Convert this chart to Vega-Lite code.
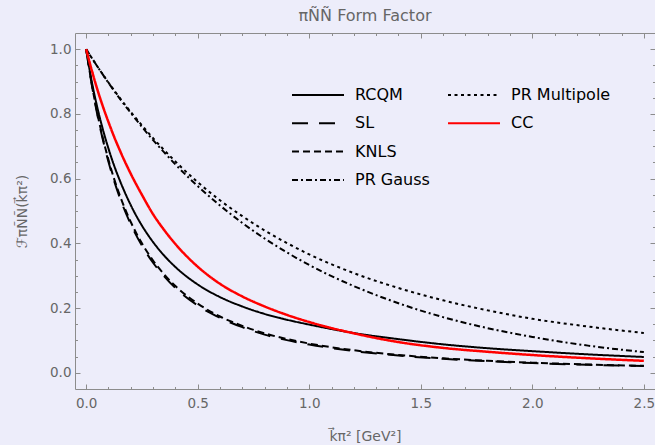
{
  "$schema": "https://vega.github.io/schema/vega-lite/v6.json",
  "autosize": "none",
  "width": 580,
  "height": 356,
  "padding": {"left": 75, "top": 33, "right": 0, "bottom": 56},
  "background": "#ededfa",
  "config": {
    "view": {"stroke": null},
    "font": "DejaVu Sans",
    "axis": {
      "domainColor": "#8c8c8c",
      "tickColor": "#8c8c8c",
      "labelColor": "#666666",
      "titleColor": "#666666",
      "labelFont": "DejaVu Sans",
      "titleFont": "DejaVu Sans",
      "labelFontSize": 13.5,
      "titleFontWeight": "normal",
      "grid": false,
      "labelOverlap": false,
      "labelFlush": false,
      "labelBound": false
    }
  },
  "title": {
    "text": "πÑÑ Form Factor",
    "font": "DejaVu Sans",
    "fontSize": 16,
    "fontWeight": "normal",
    "color": "#666666",
    "anchor": "middle",
    "offset": 9
  },
  "data": {
    "values": [
      {"model": "RCQM", "k2": 0, "F": 1.0},
      {"model": "RCQM", "k2": 0.025, "F": 0.9},
      {"model": "RCQM", "k2": 0.05, "F": 0.82},
      {"model": "RCQM", "k2": 0.075, "F": 0.752},
      {"model": "RCQM", "k2": 0.1, "F": 0.693},
      {"model": "RCQM", "k2": 0.125, "F": 0.641},
      {"model": "RCQM", "k2": 0.15, "F": 0.596},
      {"model": "RCQM", "k2": 0.2, "F": 0.518},
      {"model": "RCQM", "k2": 0.25, "F": 0.455},
      {"model": "RCQM", "k2": 0.3, "F": 0.404},
      {"model": "RCQM", "k2": 0.35, "F": 0.362},
      {"model": "RCQM", "k2": 0.4, "F": 0.327},
      {"model": "RCQM", "k2": 0.5, "F": 0.273},
      {"model": "RCQM", "k2": 0.6, "F": 0.234},
      {"model": "RCQM", "k2": 0.7, "F": 0.205},
      {"model": "RCQM", "k2": 0.8, "F": 0.182},
      {"model": "RCQM", "k2": 0.9, "F": 0.164},
      {"model": "RCQM", "k2": 1.0, "F": 0.149},
      {"model": "RCQM", "k2": 1.2, "F": 0.123},
      {"model": "RCQM", "k2": 1.4, "F": 0.104},
      {"model": "RCQM", "k2": 1.6, "F": 0.088},
      {"model": "RCQM", "k2": 1.8, "F": 0.076},
      {"model": "RCQM", "k2": 2.0, "F": 0.067},
      {"model": "RCQM", "k2": 2.25, "F": 0.057},
      {"model": "RCQM", "k2": 2.5, "F": 0.049},

      {"model": "SL", "k2": 0, "F": 1.0},
      {"model": "SL", "k2": 0.025, "F": 0.891},
      {"model": "SL", "k2": 0.05, "F": 0.798},
      {"model": "SL", "k2": 0.075, "F": 0.72},
      {"model": "SL", "k2": 0.1, "F": 0.652},
      {"model": "SL", "k2": 0.125, "F": 0.594},
      {"model": "SL", "k2": 0.15, "F": 0.543},
      {"model": "SL", "k2": 0.2, "F": 0.459},
      {"model": "SL", "k2": 0.25, "F": 0.393},
      {"model": "SL", "k2": 0.3, "F": 0.34},
      {"model": "SL", "k2": 0.35, "F": 0.298},
      {"model": "SL", "k2": 0.4, "F": 0.262},
      {"model": "SL", "k2": 0.5, "F": 0.208},
      {"model": "SL", "k2": 0.6, "F": 0.17},
      {"model": "SL", "k2": 0.7, "F": 0.141},
      {"model": "SL", "k2": 0.8, "F": 0.118},
      {"model": "SL", "k2": 0.9, "F": 0.101},
      {"model": "SL", "k2": 1.0, "F": 0.0875},
      {"model": "SL", "k2": 1.2, "F": 0.0672},
      {"model": "SL", "k2": 1.4, "F": 0.0533},
      {"model": "SL", "k2": 1.6, "F": 0.0432},
      {"model": "SL", "k2": 1.8, "F": 0.0358},
      {"model": "SL", "k2": 2.0, "F": 0.0301},
      {"model": "SL", "k2": 2.25, "F": 0.0247},
      {"model": "SL", "k2": 2.5, "F": 0.0207},

      {"model": "KNLS", "k2": 0, "F": 1.0},
      {"model": "KNLS", "k2": 0.025, "F": 0.893},
      {"model": "KNLS", "k2": 0.05, "F": 0.802},
      {"model": "KNLS", "k2": 0.075, "F": 0.725},
      {"model": "KNLS", "k2": 0.1, "F": 0.658},
      {"model": "KNLS", "k2": 0.125, "F": 0.6},
      {"model": "KNLS", "k2": 0.15, "F": 0.55},
      {"model": "KNLS", "k2": 0.2, "F": 0.466},
      {"model": "KNLS", "k2": 0.25, "F": 0.4},
      {"model": "KNLS", "k2": 0.3, "F": 0.347},
      {"model": "KNLS", "k2": 0.35, "F": 0.304},
      {"model": "KNLS", "k2": 0.4, "F": 0.268},
      {"model": "KNLS", "k2": 0.5, "F": 0.214},
      {"model": "KNLS", "k2": 0.6, "F": 0.174},
      {"model": "KNLS", "k2": 0.7, "F": 0.145},
      {"model": "KNLS", "k2": 0.8, "F": 0.122},
      {"model": "KNLS", "k2": 0.9, "F": 0.1045},
      {"model": "KNLS", "k2": 1.0, "F": 0.0904},
      {"model": "KNLS", "k2": 1.2, "F": 0.0696},
      {"model": "KNLS", "k2": 1.4, "F": 0.0552},
      {"model": "KNLS", "k2": 1.6, "F": 0.0449},
      {"model": "KNLS", "k2": 1.8, "F": 0.0372},
      {"model": "KNLS", "k2": 2.0, "F": 0.0313},
      {"model": "KNLS", "k2": 2.25, "F": 0.0257},
      {"model": "KNLS", "k2": 2.5, "F": 0.0215},

      {"model": "PR Gauss", "k2": 0, "F": 1.0},
      {"model": "PR Gauss", "k2": 0.05, "F": 0.947},
      {"model": "PR Gauss", "k2": 0.1, "F": 0.896},
      {"model": "PR Gauss", "k2": 0.15, "F": 0.848},
      {"model": "PR Gauss", "k2": 0.2, "F": 0.803},
      {"model": "PR Gauss", "k2": 0.25, "F": 0.76},
      {"model": "PR Gauss", "k2": 0.3, "F": 0.719},
      {"model": "PR Gauss", "k2": 0.35, "F": 0.681},
      {"model": "PR Gauss", "k2": 0.4, "F": 0.644},
      {"model": "PR Gauss", "k2": 0.5, "F": 0.577},
      {"model": "PR Gauss", "k2": 0.6, "F": 0.517},
      {"model": "PR Gauss", "k2": 0.7, "F": 0.463},
      {"model": "PR Gauss", "k2": 0.8, "F": 0.415},
      {"model": "PR Gauss", "k2": 0.9, "F": 0.372},
      {"model": "PR Gauss", "k2": 1.0, "F": 0.333},
      {"model": "PR Gauss", "k2": 1.2, "F": 0.268},
      {"model": "PR Gauss", "k2": 1.4, "F": 0.215},
      {"model": "PR Gauss", "k2": 1.6, "F": 0.172},
      {"model": "PR Gauss", "k2": 1.8, "F": 0.138},
      {"model": "PR Gauss", "k2": 2.0, "F": 0.111},
      {"model": "PR Gauss", "k2": 2.25, "F": 0.084},
      {"model": "PR Gauss", "k2": 2.5, "F": 0.064},

      {"model": "PR Multipole", "k2": 0, "F": 1.0},
      {"model": "PR Multipole", "k2": 0.05, "F": 0.947},
      {"model": "PR Multipole", "k2": 0.1, "F": 0.897},
      {"model": "PR Multipole", "k2": 0.15, "F": 0.85},
      {"model": "PR Multipole", "k2": 0.2, "F": 0.806},
      {"model": "PR Multipole", "k2": 0.25, "F": 0.765},
      {"model": "PR Multipole", "k2": 0.3, "F": 0.725},
      {"model": "PR Multipole", "k2": 0.35, "F": 0.688},
      {"model": "PR Multipole", "k2": 0.4, "F": 0.653},
      {"model": "PR Multipole", "k2": 0.5, "F": 0.589},
      {"model": "PR Multipole", "k2": 0.6, "F": 0.533},
      {"model": "PR Multipole", "k2": 0.7, "F": 0.484},
      {"model": "PR Multipole", "k2": 0.8, "F": 0.44},
      {"model": "PR Multipole", "k2": 0.9, "F": 0.401},
      {"model": "PR Multipole", "k2": 1.0, "F": 0.366},
      {"model": "PR Multipole", "k2": 1.2, "F": 0.308},
      {"model": "PR Multipole", "k2": 1.4, "F": 0.262},
      {"model": "PR Multipole", "k2": 1.6, "F": 0.224},
      {"model": "PR Multipole", "k2": 1.8, "F": 0.193},
      {"model": "PR Multipole", "k2": 2.0, "F": 0.167},
      {"model": "PR Multipole", "k2": 2.25, "F": 0.143},
      {"model": "PR Multipole", "k2": 2.5, "F": 0.123},

      {"model": "CC", "k2": 0, "F": 1.0},
      {"model": "CC", "k2": 0.025, "F": 0.935},
      {"model": "CC", "k2": 0.05, "F": 0.876},
      {"model": "CC", "k2": 0.075, "F": 0.823},
      {"model": "CC", "k2": 0.1, "F": 0.775},
      {"model": "CC", "k2": 0.125, "F": 0.73},
      {"model": "CC", "k2": 0.15, "F": 0.689},
      {"model": "CC", "k2": 0.2, "F": 0.615},
      {"model": "CC", "k2": 0.25, "F": 0.55},
      {"model": "CC", "k2": 0.3, "F": 0.49},
      {"model": "CC", "k2": 0.35, "F": 0.441},
      {"model": "CC", "k2": 0.4, "F": 0.398},
      {"model": "CC", "k2": 0.5, "F": 0.328},
      {"model": "CC", "k2": 0.6, "F": 0.275},
      {"model": "CC", "k2": 0.7, "F": 0.236},
      {"model": "CC", "k2": 0.8, "F": 0.205},
      {"model": "CC", "k2": 0.9, "F": 0.179},
      {"model": "CC", "k2": 1.0, "F": 0.157},
      {"model": "CC", "k2": 1.2, "F": 0.122},
      {"model": "CC", "k2": 1.4, "F": 0.095},
      {"model": "CC", "k2": 1.6, "F": 0.077},
      {"model": "CC", "k2": 1.8, "F": 0.065},
      {"model": "CC", "k2": 2.0, "F": 0.055},
      {"model": "CC", "k2": 2.25, "F": 0.045},
      {"model": "CC", "k2": 2.5, "F": 0.037}
    ]
  },
  "resolve": {
    "scale": {"strokeDash": "independent", "color": "independent"},
    "axis": {"x": "independent", "y": "independent"}
  },
  "layer": [
    {
      "transform": [{"filter": {"field": "model", "oneOf": ["RCQM", "SL", "KNLS", "PR Gauss"]}}],
      "mark": {"type": "line", "color": "black", "strokeWidth": 2, "interpolate": "monotone", "clip": true},
      "encoding": {
        "x": {
          "field": "k2", "type": "quantitative",
          "scale": {"domain": [-0.05, 2.55], "nice": false, "zero": false},
          "axis": {
            "orient": "bottom",
            "title": "k⃗π² [GeV²]",
            "titleFontSize": 14,
            "titlePadding": 20,
            "values": [0, 0.1, 0.2, 0.3, 0.4, 0.5, 0.6, 0.7, 0.8, 0.9, 1, 1.1, 1.2, 1.3, 1.4, 1.5, 1.6, 1.7, 1.8, 1.9, 2, 2.1, 2.2, 2.3, 2.4, 2.5],
            "labelExpr": "abs(datum.value * 2 - round(datum.value * 2)) < 0.001 ? format(datum.value, '.1f') : ''",
            "tickSize": -5,
            "labelPadding": 12,
            "tickDash": {"condition": {"test": "abs(datum.value * 2 - round(datum.value * 2)) > 0.001", "value": [2.5, 20]}, "value": []}
          }
        },
        "y": {
          "field": "F", "type": "quantitative",
          "scale": {"domain": [-0.05, 1.05], "nice": false, "zero": false},
          "axis": {
            "orient": "left",
            "title": "ℱπÑÑ(k⃗π²)",
            "titleFontSize": 14,
            "titlePadding": 20,
            "values": [0, 0.05, 0.1, 0.15, 0.2, 0.25, 0.3, 0.35, 0.4, 0.45, 0.5, 0.55, 0.6, 0.65, 0.7, 0.75, 0.8, 0.85, 0.9, 0.95, 1],
            "labelExpr": "abs(datum.value * 5 - round(datum.value * 5)) < 0.001 ? format(datum.value, '.1f') : ''",
            "tickSize": -5,
            "labelPadding": 9,
            "tickDash": {"condition": {"test": "abs(datum.value * 5 - round(datum.value * 5)) > 0.001", "value": [2.5, 20]}, "value": []}
          }
        },
        "strokeDash": {
          "field": "model", "type": "nominal",
          "scale": {"domain": ["RCQM", "SL", "KNLS", "PR Gauss"], "range": [[1, 0], [16, 11], [7, 4], [6, 3, 2, 3]]},
          "legend": {
            "title": null, "orient": "none", "legendX": 216, "legendY": 53,
            "symbolType": "stroke", "symbolSize": 2700, "symbolStrokeWidth": 2, "symbolStrokeColor": "black",
            "clipHeight": 18, "rowPadding": 10.3, "labelOffset": 10,
            "labelFont": "DejaVu Sans", "labelFontSize": 16, "labelColor": "black"
          }
        }
      }
    },
    {
      "transform": [{"filter": {"field": "model", "oneOf": ["PR Multipole", "CC"]}}],
      "mark": {"type": "line", "interpolate": "monotone", "clip": true},
      "encoding": {
        "x": {
          "field": "k2", "type": "quantitative",
          "axis": {
            "orient": "top", "title": null, "labels": false,
            "values": [0, 0.1, 0.2, 0.3, 0.4, 0.5, 0.6, 0.7, 0.8, 0.9, 1, 1.1, 1.2, 1.3, 1.4, 1.5, 1.6, 1.7, 1.8, 1.9, 2, 2.1, 2.2, 2.3, 2.4, 2.5],
            "tickSize": -5,
            "tickDash": {"condition": {"test": "abs(datum.value * 2 - round(datum.value * 2)) > 0.001", "value": [2.5, 20]}, "value": []}
          }
        },
        "y": {
          "field": "F", "type": "quantitative",
          "axis": {
            "orient": "right", "title": null, "labels": false,
            "values": [0, 0.05, 0.1, 0.15, 0.2, 0.25, 0.3, 0.35, 0.4, 0.45, 0.5, 0.55, 0.6, 0.65, 0.7, 0.75, 0.8, 0.85, 0.9, 0.95, 1],
            "tickSize": -5,
            "tickDash": {"condition": {"test": "abs(datum.value * 5 - round(datum.value * 5)) > 0.001", "value": [2.5, 20]}, "value": []}
          }
        },
        "strokeDash": {
          "field": "model", "type": "nominal",
          "scale": {"domain": ["PR Multipole", "CC"], "range": [[3, 3.5], [1, 0]]},
          "legend": {
            "title": null, "orient": "none", "legendX": 372, "legendY": 53,
            "symbolType": "stroke", "symbolSize": 2700, "symbolStrokeWidth": 2,
            "clipHeight": 18, "rowPadding": 10.3, "labelOffset": 10,
            "labelFont": "DejaVu Sans", "labelFontSize": 16, "labelColor": "black"
          }
        },
        "color": {
          "field": "model", "type": "nominal",
          "scale": {"domain": ["PR Multipole", "CC"], "range": ["black", "red"]},
          "legend": {
            "title": null, "orient": "none", "legendX": 372, "legendY": 53,
            "symbolType": "stroke", "symbolSize": 2700, "symbolStrokeWidth": 2,
            "clipHeight": 18, "rowPadding": 10.3, "labelOffset": 10,
            "labelFont": "DejaVu Sans", "labelFontSize": 16, "labelColor": "black"
          }
        },
        "strokeWidth": {
          "field": "model", "type": "nominal",
          "scale": {"domain": ["PR Multipole", "CC"], "range": [2, 2.5]},
          "legend": null
        }
      }
    }
  ]
}
